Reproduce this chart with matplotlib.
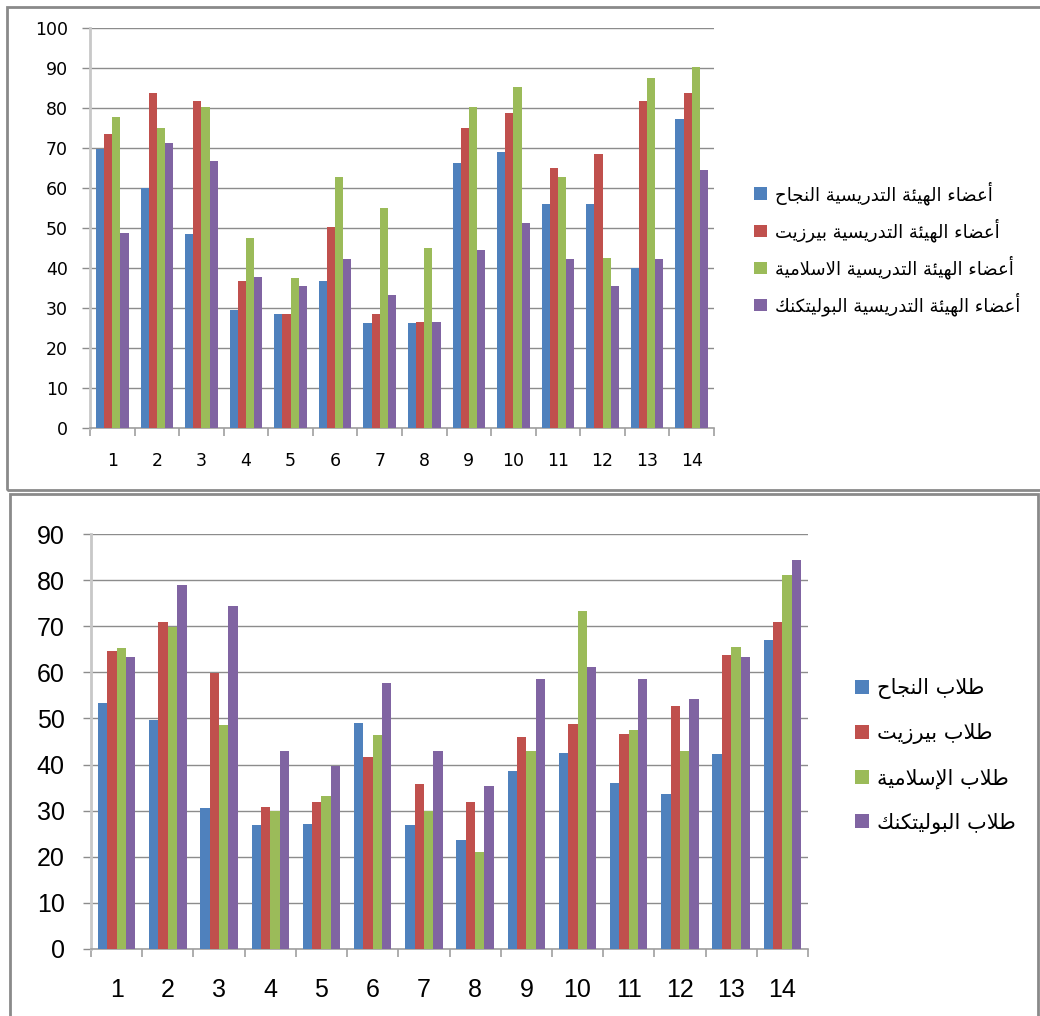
import numpy as np
import matplotlib
matplotlib.use('Agg')
import matplotlib.pyplot as plt
from matplotlib.patches import Rectangle

# 数据
categories = list(range(1, 15))

staff_najah = [69.7, 60.1, 48.4, 29.5, 28.5, 36.8, 26.3, 26.3, 66.3, 69.0, 56.1, 56.1, 40.0, 77.2]
staff_birzeit = [73.4, 83.7, 81.8, 36.8, 28.5, 50.2, 28.5, 26.6, 75.0, 78.7, 65.1, 68.5, 81.8, 83.7]
staff_islamic = [77.7, 75.0, 80.2, 47.4, 37.5, 62.8, 55.1, 45.0, 80.2, 85.2, 62.8, 42.4, 87.5, 90.2]
staff_poly = [48.8, 71.2, 66.7, 37.7, 35.6, 42.3, 33.3, 26.6, 44.6, 51.3, 42.3, 35.6, 42.3, 64.4]

stud_najah = [53.4, 49.7, 30.6, 26.9, 27.2, 49.1, 26.9, 23.7, 38.6, 42.6, 36.1, 33.7, 42.3, 67.1]
stud_birzeit = [64.7, 71.0, 59.8, 30.9, 31.9, 41.7, 35.8, 31.9, 45.9, 48.8, 46.7, 52.8, 63.7, 71.0]
stud_islamic = [65.3, 69.9, 48.6, 29.9, 33.2, 46.5, 29.9, 21.0, 43.0, 73.3, 47.5, 43.0, 65.4, 81.1]
stud_poly = [63.3, 79.0, 74.3, 43.0, 39.7, 57.6, 43.0, 35.3, 58.6, 61.1, 58.6, 54.3, 63.3, 84.4]

staff_labels = ['أعضاء الهيئة التدريسية النجاح',
                'أعضاء الهيئة التدريسية بيرزيت',
                'أعضاء الهيئة التدريسية الاسلامية',
                'أعضاء الهيئة التدريسية البوليتكنك']
stud_labels = ['طلاب النجاح', 'طلاب بيرزيت', 'طلاب الإسلامية', 'طلاب البوليتكنك']

colors = ['#4F81BD', '#C0504D', '#9BBB59', '#8064A2']

# matplotlib 不做阿拉伯文连写, 这里手动转成呈现形式并反转顺序
FORMS = {
    '\u0621': (0xFE80,),
    '\u0623': (0xFE83, 0xFE84),
    '\u0625': (0xFE87, 0xFE88),
    '\u0627': (0xFE8D, 0xFE8E),
    '\u0629': (0xFE93, 0xFE94),
    '\u062F': (0xFEA9, 0xFEAA),
    '\u0631': (0xFEAD, 0xFEAE),
    '\u0632': (0xFEAF, 0xFEB0),
    '\u0648': (0xFEED, 0xFEEE),
    '\u0626': (0xFE89, 0xFE8A, 0xFE8B, 0xFE8C),
    '\u0628': (0xFE8F, 0xFE90, 0xFE91, 0xFE92),
    '\u062A': (0xFE95, 0xFE96, 0xFE97, 0xFE98),
    '\u062C': (0xFE9D, 0xFE9E, 0xFE9F, 0xFEA0),
    '\u062D': (0xFEA1, 0xFEA2, 0xFEA3, 0xFEA4),
    '\u0633': (0xFEB1, 0xFEB2, 0xFEB3, 0xFEB4),
    '\u0636': (0xFEBD, 0xFEBE, 0xFEBF, 0xFEC0),
    '\u0637': (0xFEC1, 0xFEC2, 0xFEC3, 0xFEC4),
    '\u0639': (0xFEC9, 0xFECA, 0xFECB, 0xFECC),
    '\u0643': (0xFED9, 0xFEDA, 0xFEDB, 0xFEDC),
    '\u0644': (0xFEDD, 0xFEDE, 0xFEDF, 0xFEE0),
    '\u0645': (0xFEE1, 0xFEE2, 0xFEE3, 0xFEE4),
    '\u0646': (0xFEE5, 0xFEE6, 0xFEE7, 0xFEE8),
    '\u0647': (0xFEE9, 0xFEEA, 0xFEEB, 0xFEEC),
    '\u064A': (0xFEF1, 0xFEF2, 0xFEF3, 0xFEF4),
}
LAM_ALEF = {'\u0627': (0xFEFB, 0xFEFC), '\u0623': (0xFEF7, 0xFEF8), '\u0625': (0xFEF9, 0xFEFA)}


def joins_left(c):
    return c in FORMS and len(FORMS[c]) == 4


def joins_right(c):
    return c in FORMS and len(FORMS[c]) >= 2


def shape(s):
    out = []
    i = 0
    n = len(s)
    while i < n:
        c = s[i]
        if c not in FORMS:
            out.append(c)
            i += 1
            continue
        prev = s[i - 1] if i > 0 else ''
        nxt = s[i + 1] if i + 1 < n else ''
        p = joins_left(prev) and joins_right(c)
        if c == '\u0644' and nxt in LAM_ALEF:
            iso, fin = LAM_ALEF[nxt]
            out.append(chr(fin if p else iso))
            i += 2
            continue
        nx = joins_left(c) and joins_right(nxt)
        f = FORMS[c]
        if p and nx:
            g = f[3]
        elif p:
            g = f[1]
        elif nx:
            g = f[2]
        else:
            g = f[0]
        out.append(chr(g))
        i += 1
    return ''.join(reversed(out))


def draw_panel(ax, series, labels, ymax, font, fs, tick_pad_x, tick_pad_y):
    x = np.array(categories)
    w = 0.183
    for k, vals in enumerate(series):
        ax.bar(x + (k - 1.5) * w, vals, w, color=colors[k], label=shape(labels[k]), zorder=3)
    ax.set_xlim(0.5, 14.5)
    ax.set_ylim(0, ymax)
    ax.set_yticks(np.arange(0, ymax + 1, 10))
    ax.yaxis.grid(True, color='#8c8c8c', linewidth=1.0, zorder=0)
    ax.set_axisbelow(True)
    # 刻度线在类别边界, 标签在类别中心
    ax.set_xticks(np.arange(0.5, 15, 1))
    ax.set_xticklabels([])
    ax.set_xticks(x, minor=True)
    ax.set_xticklabels([str(c) for c in categories], minor=True, fontfamily=font, fontsize=fs)
    ax.tick_params(axis='x', which='major', length=6, color='#a0a0a0', width=1.2, direction='out')
    ax.tick_params(axis='x', which='minor', length=0, pad=tick_pad_x)
    ax.tick_params(axis='y', length=6, color='#8c8c8c', width=1, pad=tick_pad_y)
    for t in ax.get_yticklabels():
        t.set_fontfamily(font)
        t.set_fontsize(fs)
    for s in ['top', 'right']:
        ax.spines[s].set_visible(False)
    ax.spines['left'].set_color('#c8c8c8')
    ax.spines['left'].set_linewidth(2)
    ax.spines['bottom'].set_color('#a0a0a0')
    ax.spines['bottom'].set_linewidth(1.2)


fig = plt.figure(figsize=(10.4, 10.16), dpi=100)
W, H = 1040, 1016

# 外框
fig.patches.append(Rectangle((7 / W, 1 - 490 / H), 1.1, 483 / H, transform=fig.transFigure,
                             fill=False, edgecolor='#8a8a8a', linewidth=2))
fig.patches.append(Rectangle((10 / W, -0.1), (1038 - 10) / W, 1 - 494 / H + 0.1, transform=fig.transFigure,
                             fill=False, edgecolor='#8a8a8a', linewidth=2))

ax1 = fig.add_axes([90 / W, 1 - 428 / H, 624 / W, 400 / H])
draw_panel(ax1, [staff_najah, staff_birzeit, staff_islamic, staff_poly], staff_labels,
           100, 'DejaVu Sans', 12.5, 17, 10)
ax1.legend(loc='center left', bbox_to_anchor=(745 / W, 1 - 248.5 / H), bbox_transform=fig.transFigure,
           frameon=False, handlelength=0.7, handleheight=0.7, handletextpad=0.45,
           labelspacing=0.75, borderpad=0, prop={'family': 'DejaVu Sans', 'size': 13})

ax2 = fig.add_axes([91 / W, 1 - 949 / H, 717 / W, 415 / H])
draw_panel(ax2, [stud_najah, stud_birzeit, stud_islamic, stud_poly], stud_labels,
           90, 'Liberation Sans', 18, 21, 13)
ax2.legend(loc='center left', bbox_to_anchor=(845 / W, 1 - 756 / H), bbox_transform=fig.transFigure,
           frameon=False, handlelength=0.65, handleheight=0.65, handletextpad=0.4,
           labelspacing=1.15, borderpad=0, prop={'family': 'DejaVu Sans', 'size': 15})

fig.savefig('out.png', dpi=100)
